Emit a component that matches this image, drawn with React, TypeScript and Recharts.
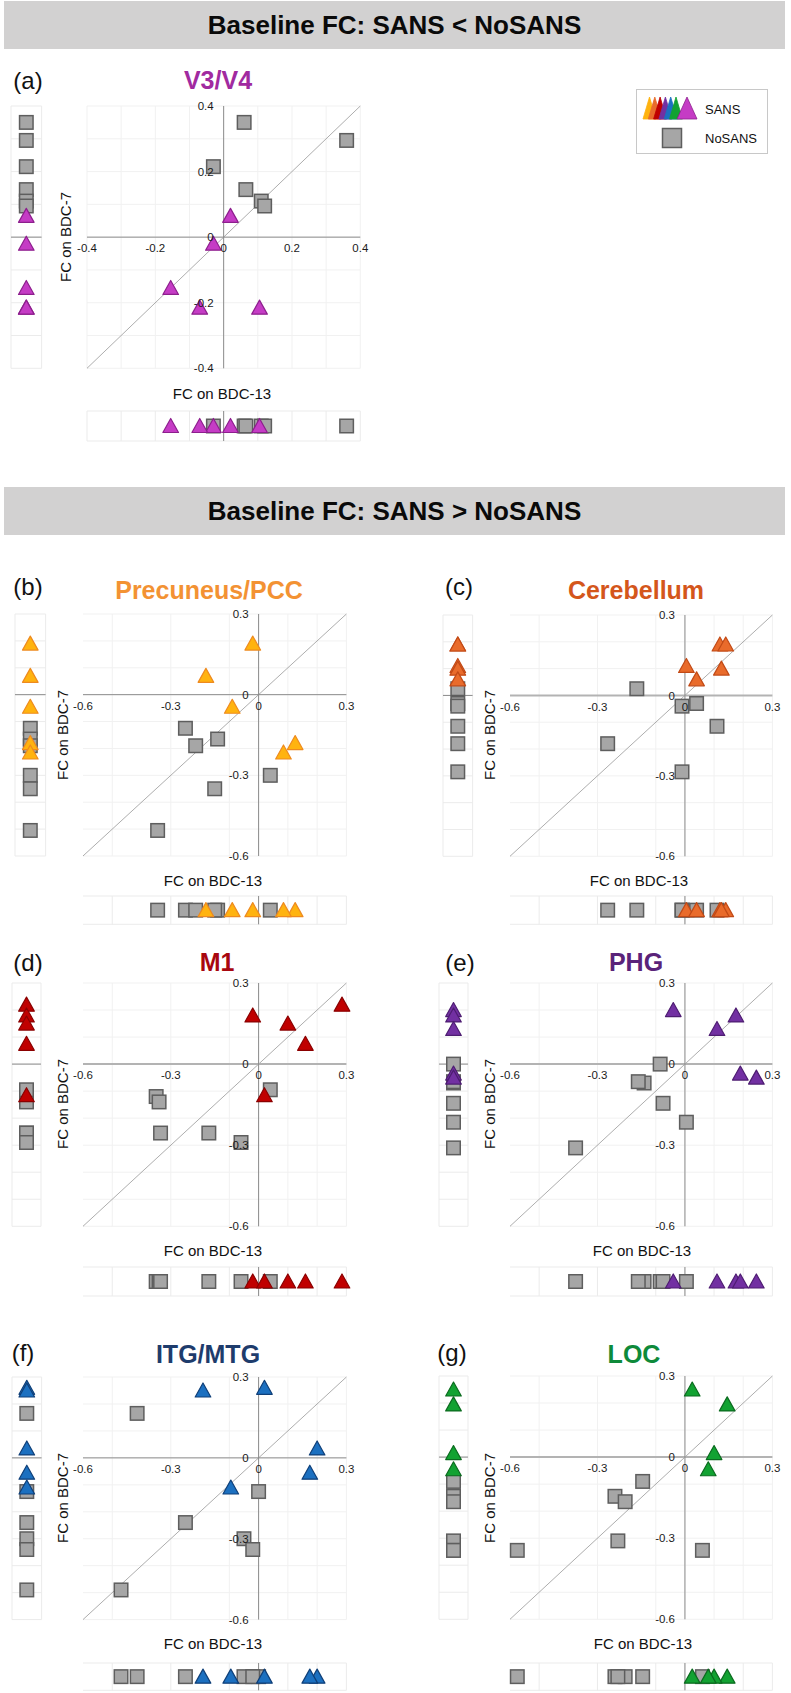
import React from 'react'
import { ScatterChart, Scatter, XAxis, YAxis, CartesianGrid, ReferenceLine, ReferenceDot } from 'recharts'

// values: x = FC on BDC-13, y = FC on BDC-7
const v34SansX = [0.02, -0.03, -0.155, -0.07, 0.105]
const v34SansY = [0.065, -0.02, -0.155, -0.215, -0.215]
const v34NoX = [0.06, 0.36, -0.03, 0.065, 0.11, 0.12]
const v34NoY = [0.35, 0.295, 0.215, 0.145, 0.11, 0.095]

const pccSansX = [-0.02, -0.18, -0.09, 0.125, 0.085]
const pccSansY = [0.19, 0.07, -0.045, -0.18, -0.215]
const pccNoX = [-0.25, -0.14, -0.215, 0.04, -0.15, -0.345]
const pccNoY = [-0.125, -0.165, -0.19, -0.3, -0.35, -0.505]

const cerSansX = [0.12, 0.14, 0.005, 0.125, 0.04]
const cerSansY = [0.19, 0.19, 0.11, 0.1, 0.06]
const cerNoX = [-0.165, 0.04, -0.01, 0.11, -0.265, -0.01]
const cerNoY = [0.025, -0.03, -0.04, -0.115, -0.18, -0.285]

const m1SansX = [0.285, -0.02, 0.1, 0.16, 0.02]
const m1SansY = [0.22, 0.18, 0.15, 0.075, -0.115]
const m1NoX = [-0.35, -0.34, 0.04, -0.335, -0.17, -0.06]
const m1NoY = [-0.12, -0.14, -0.095, -0.255, -0.255, -0.29]

const phgSansX = [-0.04, 0.175, 0.11, 0.19, 0.245]
const phgSansY = [0.2, 0.18, 0.13, -0.035, -0.05]
const phgNoX = [-0.085, -0.14, -0.16, -0.075, 0.005, -0.375]
const phgNoY = [0, -0.07, -0.065, -0.145, -0.215, -0.31]

const itgSansX = [0.02, -0.19, 0.2, 0.175, -0.095]
const itgSansY = [0.26, 0.25, 0.035, -0.055, -0.11]
const itgNoX = [-0.415, 0, -0.25, -0.05, -0.02, -0.47]
const itgNoY = [0.165, -0.125, -0.24, -0.3, -0.34, -0.49]

const locSansX = [0.025, 0.145, 0.1, 0.08]
const locSansY = [0.25, 0.195, 0.015, -0.045]
const locNoX = [-0.145, -0.24, -0.205, -0.23, 0.06, -0.575]
const locNoY = [-0.09, -0.145, -0.165, -0.31, -0.345, -0.345]

const gridWide = [-0.4, -0.3, -0.2, -0.1, 0, 0.1, 0.2, 0.3, 0.4]
const gridNarrow = [-0.6, -0.5, -0.4, -0.3, -0.2, -0.1, 0, 0.1, 0.2, 0.3]
const ticksWide = [-0.4, -0.2, 0, 0.2, 0.4]
const ticksNarrow = [-0.6, -0.3, 0, 0.3]

const FONT = "'Liberation Sans', Arial, Helvetica, sans-serif"
const M = 20
const SQ_FILL = '#a6a6a6'
const SQ_STROKE = '#5e5e5e'
const GRID = '#f1f1f1'

const zip = (xs: number[], ys: number[]) => xs.map((x, i) => ({ x, y: ys[i] }))

const square = (props: any) => {
  const { cx, cy } = props
  return <rect x={cx - 6.75} y={cy - 6.75} width={13.5} height={13.5} fill={SQ_FILL} stroke={SQ_STROKE} strokeWidth={1.5} />
}

const triangle = (fill: string, stroke: string) => (props: any) => {
  const { cx, cy } = props
  return (
    <polygon
      points={`${cx},${cy - 7.5} ${cx + 7.8},${cy + 6.5} ${cx - 7.8},${cy + 6.5}`}
      fill={fill}
      stroke={stroke}
      strokeWidth={1.2}
      strokeLinejoin="round"
    />
  )
}

type Rect = { x: number; y: number; w: number; h: number }

interface PanelProps {
  tag: string
  title: string
  titleColor: string
  fill: string
  stroke: string
  sansX: number[]
  sansY: number[]
  noX: number[]
  noY: number[]
  dom: [number, number]
  grid: number[]
  ticks: number[]
  plot: Rect
  leftX: number
  leftW: number
  bottomY: number
  bottomH: number
  tagPos: [number, number]
  titlePos: [number, number]
  xLab: [number, number]
  yLab: [number, number]
  thickZero?: boolean
}

const fmt = (v: number) => (v === 0 ? '0' : String(v))

function Panel(p: PanelProps) {
  const sans = zip(p.sansX, p.sansY)
  const no = zip(p.noX, p.noY)
  const tri = triangle(p.fill, p.stroke)
  const { plot } = p
  const labelStyle = { fontSize: 11.5, fill: '#1a1a1a' }

  return (
    <>
      <div style={{ position: 'absolute', left: p.tagPos[0], top: p.tagPos[1], transform: 'translate(-50%,-50%)', fontSize: 24, lineHeight: 1 }}>
        {p.tag}
      </div>
      <div
        style={{
          position: 'absolute', left: p.titlePos[0], top: p.titlePos[1], transform: 'translate(-50%,-50%)',
          fontSize: 25, fontWeight: 'bold', color: p.titleColor, lineHeight: 1, whiteSpace: 'nowrap',
        }}
      >
        {p.title}
      </div>
      <div style={{ position: 'absolute', left: p.xLab[0], top: p.xLab[1], transform: 'translate(-50%,-50%)', fontSize: 15, lineHeight: 1, whiteSpace: 'nowrap' }}>
        FC on BDC-13
      </div>
      <div
        style={{
          position: 'absolute', left: p.yLab[0], top: p.yLab[1], transform: 'translate(-50%,-50%) rotate(-90deg)',
          fontSize: 15, lineHeight: 1, whiteSpace: 'nowrap',
        }}
      >
        FC on BDC-7
      </div>

      {/* main scatter */}
      <div style={{ position: 'absolute', left: plot.x - M, top: plot.y - M }}>
        <ScatterChart width={plot.w + 2 * M} height={plot.h + 2 * M} margin={{ top: M, right: M, bottom: M, left: M }}>
          <CartesianGrid stroke={GRID} horizontalValues={p.grid} verticalValues={p.grid} />
          <XAxis type="number" dataKey="x" domain={p.dom} ticks={p.grid} hide />
          <YAxis type="number" dataKey="y" domain={p.dom} ticks={p.grid} hide />
          <ReferenceLine
            segment={[{ x: p.dom[0], y: p.dom[0] }, { x: p.dom[1], y: p.dom[1] }]}
            stroke="#8a8a8a"
            strokeWidth={0.7}
            ifOverflow="visible"
          />
          <ReferenceLine y={0} stroke={p.thickZero ? '#b3b3b3' : '#8c8c8c'} strokeWidth={p.thickZero ? 2 : 1} />
          <ReferenceLine x={0} stroke="#8c8c8c" strokeWidth={1} />
          {p.ticks.map((v) => (
            <ReferenceDot key={'tx' + v} x={v} y={0} r={1} fill="none" stroke="none" ifOverflow="visible"
              label={{ value: fmt(v), position: 'bottom', offset: 6, ...labelStyle }} />
          ))}
          {p.ticks.map((v) => (
            <ReferenceDot key={'ty' + v} x={0} y={v} r={1} fill="none" stroke="none" ifOverflow="visible"
              label={{ value: fmt(v), position: 'left', offset: 9, ...labelStyle }} />
          ))}
          <Scatter name="NoSANS" data={no} shape={square} isAnimationActive={false} />
          <Scatter name="SANS" data={sans} shape={tri} isAnimationActive={false} />
        </ScatterChart>
      </div>

      {/* left marginal strip (BDC-7) */}
      <div style={{ position: 'absolute', left: p.leftX - M, top: plot.y - M }}>
        <ScatterChart width={p.leftW + 2 * M} height={plot.h + 2 * M} margin={{ top: M, right: M, bottom: M, left: M }}>
          <CartesianGrid stroke="#ebebeb" horizontalValues={p.grid} verticalValues={[0, 1]} />
          <XAxis type="number" dataKey="x" domain={[0, 1]} hide />
          <YAxis type="number" dataKey="y" domain={p.dom} hide />
          <ReferenceLine y={0} stroke="#8c8c8c" strokeWidth={1} />
          <Scatter data={p.noY.map((y) => ({ x: 0.5, y }))} shape={square} isAnimationActive={false} />
          <Scatter data={p.sansY.map((y) => ({ x: 0.5, y }))} shape={tri} isAnimationActive={false} />
        </ScatterChart>
      </div>

      {/* bottom marginal strip (BDC-13) */}
      <div style={{ position: 'absolute', left: plot.x - M, top: p.bottomY - M }}>
        <ScatterChart width={plot.w + 2 * M} height={p.bottomH + 2 * M} margin={{ top: M, right: M, bottom: M, left: M }}>
          <CartesianGrid stroke="#ebebeb" horizontalValues={[0, 1]} verticalValues={p.grid} />
          <XAxis type="number" dataKey="x" domain={p.dom} hide />
          <YAxis type="number" dataKey="y" domain={[0, 1]} hide />
          <ReferenceLine x={0} stroke="#8c8c8c" strokeWidth={1} />
          <Scatter data={p.noX.map((x) => ({ x, y: 0.5 }))} shape={square} isAnimationActive={false} />
          <Scatter data={p.sansX.map((x) => ({ x, y: 0.5 }))} shape={tri} isAnimationActive={false} />
        </ScatterChart>
      </div>
    </>
  )
}

const legendColors = ['#ffb30f', '#e96b2b', '#c00000', '#7230a2', '#1c70c0', '#12a232']

function LegendBox() {
  return (
    <svg style={{ position: 'absolute', left: 636, top: 89 }} width={134} height={67}>
      <rect x={0.5} y={0.5} width={131} height={64} fill="#fff" stroke="#c8c8c8" />
      {legendColors.map((c, i) => (
        <polygon key={c} points={`${7 + i * 5.3},30 ${13.5 + i * 5.3},8 ${20 + i * 5.3},30`} fill={c} stroke={c} strokeWidth={0.8} />
      ))}
      <polygon points="41,30 51,8 61,30" fill="#c53cc5" stroke="#8d1f8d" strokeWidth={0.8} />
      <text x={69} y={24.5} fontSize={13} fill="#111">SANS</text>
      <rect x={26.5} y={39.5} width={19} height={19} fill={SQ_FILL} stroke={SQ_STROKE} strokeWidth={1.5} />
      <text x={69} y={54} fontSize={13} fill="#111">NoSANS</text>
    </svg>
  )
}

function Header({ top, text }: { top: number; text: string }) {
  return (
    <div
      style={{
        position: 'absolute', left: 4, top, width: 781, height: 48, background: '#d2d1d1',
        display: 'flex', alignItems: 'center', justifyContent: 'center',
        fontSize: 26, fontWeight: 'bold', color: '#0a0a0a',
      }}
    >
      {text}
    </div>
  )
}

export default function App() {
  return (
    <div style={{ position: 'absolute', left: 0, top: 0, width: 791, height: 1693, background: '#fff', fontFamily: FONT, color: '#111', overflow: 'hidden' }}>
      <Header top={1} text="Baseline FC: SANS < NoSANS" />
      <LegendBox />
      <Panel
        tag="(a)" title="V3/V4" titleColor="#a12aa0" fill="#c53cc5" stroke="#8d1f8d"
        sansX={v34SansX} sansY={v34SansY} noX={v34NoX} noY={v34NoY}
        dom={[-0.4, 0.4]} grid={gridWide} ticks={ticksWide}
        plot={{ x: 86.7, y: 105.7, w: 273.3, h: 262.3 }} leftX={10.7} leftW={30.6} bottomY={411} bottomH={30}
        tagPos={[28, 81]} titlePos={[218, 80]} xLab={[222, 393]} yLab={[65, 237]}
      />

      <Header top={487} text="Baseline FC: SANS > NoSANS" />
      <Panel
        tag="(b)" title="Precuneus/PCC" titleColor="#f39233" fill="#ffb30f" stroke="#ee8a1f"
        sansX={pccSansX} sansY={pccSansY} noX={pccNoX} noY={pccNoY}
        dom={[-0.6, 0.3]} grid={gridNarrow} ticks={ticksNarrow}
        plot={{ x: 83.3, y: 614, w: 263.4, h: 242 }} leftX={14.7} leftW={30.6} bottomY={895.7} bottomH={28.3}
        tagPos={[28, 587]} titlePos={[209, 590]} xLab={[213, 880]} yLab={[62, 735]}
      />
      <Panel
        tag="(c)" title="Cerebellum" titleColor="#d4561b" fill="#e96b2b" stroke="#c24a16"
        sansX={cerSansX} sansY={cerSansY} noX={cerNoX} noY={cerNoY}
        dom={[-0.6, 0.3]} grid={gridNarrow} ticks={ticksNarrow} thickZero
        plot={{ x: 510.3, y: 614.7, w: 262.4, h: 241.3 }} leftX={442.7} leftW={29.6} bottomY={895.7} bottomH={28.3}
        tagPos={[459, 587]} titlePos={[636, 590]} xLab={[639, 880]} yLab={[489, 735]}
      />
      <Panel
        tag="(d)" title="M1" titleColor="#a8070f" fill="#c00000" stroke="#8a0000"
        sansX={m1SansX} sansY={m1SansY} noX={m1NoX} noY={m1NoY}
        dom={[-0.6, 0.3]} grid={gridNarrow} ticks={ticksNarrow} thickZero
        plot={{ x: 83.3, y: 982.7, w: 263.4, h: 243.3 }} leftX={11.7} leftW={29} bottomY={1266.7} bottomH={29}
        tagPos={[28, 963]} titlePos={[217, 962]} xLab={[213, 1250]} yLab={[62, 1104]}
      />
      <Panel
        tag="(e)" title="PHG" titleColor="#5a2379" fill="#7230a2" stroke="#4e1d72"
        sansX={phgSansX} sansY={phgSansY} noX={phgNoX} noY={phgNoY}
        dom={[-0.6, 0.3]} grid={gridNarrow} ticks={ticksNarrow} thickZero
        plot={{ x: 510.3, y: 982.7, w: 262.4, h: 243.3 }} leftX={438.7} leftW={29} bottomY={1266.7} bottomH={29}
        tagPos={[460, 963]} titlePos={[636, 962]} xLab={[642, 1250]} yLab={[489, 1104]}
      />
      <Panel
        tag="(f)" title="ITG/MTG" titleColor="#1e3c6c" fill="#1c70c0" stroke="#0f3f78"
        sansX={itgSansX} sansY={itgSansY} noX={itgNoX} noY={itgNoY}
        dom={[-0.6, 0.3]} grid={gridNarrow} ticks={ticksNarrow}
        plot={{ x: 83.3, y: 1376.7, w: 263.4, h: 242.6 }} leftX={11.7} leftW={29.6} bottomY={1662.7} bottomH={27.3}
        tagPos={[23, 1353]} titlePos={[208, 1354]} xLab={[213, 1643]} yLab={[62, 1498]}
      />
      <Panel
        tag="(g)" title="LOC" titleColor="#0e8a3a" fill="#12a232" stroke="#0b6b1f"
        sansX={locSansX} sansY={locSansY} noX={locNoX} noY={locNoY}
        dom={[-0.6, 0.3]} grid={gridNarrow} ticks={ticksNarrow} thickZero
        plot={{ x: 510.3, y: 1376, w: 262.4, h: 243.3 }} leftX={438.7} leftW={29} bottomY={1662.7} bottomH={27.3}
        tagPos={[452, 1353]} titlePos={[634, 1354]} xLab={[643, 1643]} yLab={[489, 1498]}
      />
    </div>
  )
}
